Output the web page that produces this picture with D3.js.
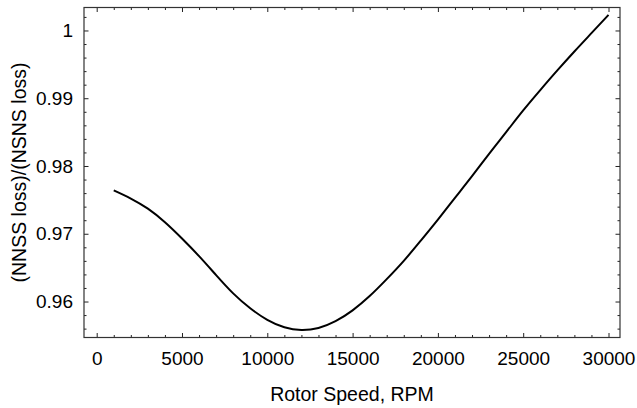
<!DOCTYPE html>
<html>
<head>
<meta charset="utf-8">
<script src="https://cdn.jsdelivr.net/npm/d3@7"></script>
<style>
  body { margin: 0; background: #fff; }
  svg { font-family: "Liberation Sans", Arial, sans-serif; }
</style>
</head>
<body>
<div id="chart"></div>
<script>
const width = 637;
const height = 408;

// rotor speed (RPM) and loss ratio
const rpm = [1000, 2000, 3000, 4000, 5000, 6000, 7000, 8000, 9000, 10000,
    11000, 12000, 13000, 14000, 15000, 16000, 17000, 18000, 19000, 20000,
    21000, 22000, 23000, 24000, 25000, 26000, 27000, 28000, 29000, 30000];
const lossRatio = [0.9764, 0.9752, 0.9737, 0.9717, 0.9693, 0.9667, 0.9639, 0.9612, 0.9590, 0.9573,
    0.9562, 0.9558, 0.9561, 0.9571, 0.9587, 0.9608, 0.9633, 0.9660, 0.9690, 0.9721,
    0.9753, 0.9785, 0.9818, 0.9850, 0.9882, 0.9912, 0.9941, 0.9969, 0.9996, 1.0023];

const xTicks = [0, 5000, 10000, 15000, 20000, 25000, 30000];
const yTicks = [0.96, 0.97, 0.98, 0.99, 1];

const margin = { top: 7.5, right: 17, bottom: 70.5, left: 84 };

const x = d3.scaleLinear()
    .domain([-744, 30674])
    .range([margin.left, width - margin.right]);

const y = d3.scaleLinear()
    .domain([0.95469, 1.00339])
    .range([height - margin.bottom, margin.top]);

const xMinor = d3.range(0, 30001, 1000).filter(v => v % 5000 !== 0);
const yMinor = d3.range(956, 1003, 2).map(v => v / 1000).filter(v => Math.round(v * 1000) % 10 !== 0);

const svg = d3.select("#chart")
    .append("svg")
    .attr("width", width)
    .attr("height", height);

const fmtY = d => d === 1 ? "1" : d3.format(".2f")(d);

// ──── Axes (ticks point inward) ────
function minorAxis(axis, scale, vals, size) {
    return axis(scale).tickValues(vals).tickSize(size).tickFormat("");
}

const gBottom = svg.append("g")
    .attr("transform", `translate(0,${height - margin.bottom})`);
gBottom.append("g").call(d3.axisBottom(x).tickValues(xTicks).tickSize(-4.5).tickPadding(14).tickFormat(d3.format("d")));
gBottom.append("g").call(minorAxis(d3.axisBottom, x, xMinor, -2.5));

const gTop = svg.append("g")
    .attr("transform", `translate(0,${margin.top})`);
gTop.append("g").call(minorAxis(d3.axisTop, x, xTicks, -4.5));
gTop.append("g").call(minorAxis(d3.axisTop, x, xMinor, -2.5));

const gLeft = svg.append("g")
    .attr("transform", `translate(${margin.left},0)`);
gLeft.append("g").call(d3.axisLeft(y).tickValues(yTicks).tickSize(-4.5).tickPadding(11).tickFormat(fmtY));
gLeft.append("g").call(minorAxis(d3.axisLeft, y, yMinor, -2.5));

const gRight = svg.append("g")
    .attr("transform", `translate(${width - margin.right},0)`);
gRight.append("g").call(minorAxis(d3.axisRight, y, yTicks, -4.5));
gRight.append("g").call(minorAxis(d3.axisRight, y, yMinor, -2.5));

svg.selectAll(".domain").remove();
svg.selectAll(".tick line").attr("stroke", "#222").attr("stroke-width", 1);
svg.selectAll(".tick text")
    .attr("fill", "#000")
    .attr("font-size", "19px")
    .attr("font-family", "Liberation Sans, Arial, sans-serif");

// frame
svg.append("rect")
    .attr("x", margin.left)
    .attr("y", margin.top)
    .attr("width", width - margin.left - margin.right)
    .attr("height", height - margin.top - margin.bottom)
    .attr("fill", "none")
    .attr("stroke", "#333")
    .attr("stroke-width", 1.2);

// ──── Curve ────
const line = d3.line()
    .x((d, i) => x(rpm[i]))
    .y(d => y(d))
    .curve(d3.curveNatural);

svg.append("path")
    .datum(lossRatio)
    .attr("fill", "none")
    .attr("stroke", "#000")
    .attr("stroke-width", 2)
    .attr("d", line);

// ──── Axis titles ────
svg.append("text")
    .attr("x", (margin.left + width - margin.right) / 2)
    .attr("y", 401)
    .attr("text-anchor", "middle")
    .attr("font-size", "19.5px")
    .text("Rotor Speed, RPM");

svg.append("text")
    .attr("transform", `translate(26,${(margin.top + height - margin.bottom) / 2}) rotate(-90)`)
    .attr("text-anchor", "middle")
    .attr("font-size", "19.5px")
    .text("(NNSS loss)/(NSNS loss)");
</script>
</body>
</html>
